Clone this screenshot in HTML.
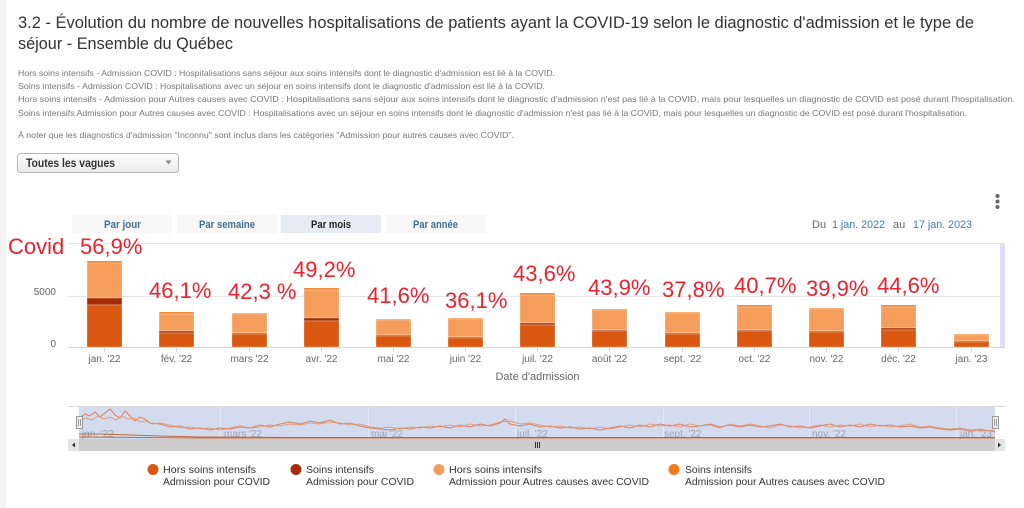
<!DOCTYPE html>
<html><head><meta charset="utf-8"><style>
html,body{margin:0;padding:0;background:#fff;}
svg{display:block;}
text{font-family:"Liberation Sans",Arial,sans-serif;}
</style></head><body>
<svg width="1024" height="508" viewBox="0 0 1024 508" xmlns="http://www.w3.org/2000/svg">
<rect x="0" y="0" width="1024" height="508" fill="#fff"/>
<rect x="0" y="0" width="6" height="508" fill="#f3f3f3"/>

<!-- Title -->
<text x="18" y="28" font-size="17" fill="#333" textLength="956" lengthAdjust="spacingAndGlyphs">3.2 - Évolution du nombre de nouvelles hospitalisations de patients ayant la COVID-19 selon le diagnostic d'admission et le type de</text>
<text x="18" y="49" font-size="17" fill="#333" textLength="215" lengthAdjust="spacingAndGlyphs">séjour - Ensemble du Québec</text>

<!-- Description -->
<g font-size="8.5" fill="#777">
<text x="18" y="76" textLength="537" lengthAdjust="spacingAndGlyphs">Hors soins intensifs - Admission COVID : Hospitalisations sans séjour aux soins intensifs dont le diagnostic d'admission est lié à la COVID.</text>
<text x="18" y="89" textLength="527" lengthAdjust="spacingAndGlyphs">Soins intensifs - Admission COVID : Hospitalisations avec un séjour en soins intensifs dont le diagnostic d'admission est lié à la COVID.</text>
<text x="18" y="102" textLength="997" lengthAdjust="spacingAndGlyphs">Hors soins intensifs - Admission pour Autres causes avec COVID : Hospitalisations sans séjour aux soins intensifs dont le diagnostic d'admission n'est pas lié à la COVID, mais pour lesquelles un diagnostic de COVID est posé durant l'hospitalisation.</text>
<text x="18" y="116" textLength="949" lengthAdjust="spacingAndGlyphs">Soins intensifs Admission pour Autres causes avec COVID : Hospitalisations avec un séjour en soins intensifs dont le diagnostic d'admission n'est pas lié à la COVID, mais pour lesquelles un diagnostic de COVID est posé durant l'hospitalisation.</text>
<text x="18" y="138" textLength="496" lengthAdjust="spacingAndGlyphs">À noter que les diagnostics d'admission "Inconnu" sont inclus dans les catégories "Admission pour autres causes avec COVID".</text>
</g>

<!-- Dropdown -->
<defs>
<linearGradient id="dd" x1="0" y1="0" x2="0" y2="1"><stop offset="0" stop-color="#fdfdfd"/><stop offset="1" stop-color="#ececec"/></linearGradient>
</defs>
<rect x="17.5" y="153.5" width="161" height="19" rx="3" fill="url(#dd)" stroke="#b5b5b5"/>
<text x="26" y="167" font-size="11.5" font-weight="bold" fill="#333" textLength="89" lengthAdjust="spacingAndGlyphs">Toutes les vagues</text>
<path d="M165.5 160.5 L171.5 160.5 L168.5 164.5 Z" fill="#888"/>

<!-- Range buttons -->
<rect x="72" y="215" width="100" height="18" fill="#f7f7f7"/>
<rect x="177" y="215" width="100" height="18" fill="#f7f7f7"/>
<rect x="281" y="215" width="100" height="18" fill="#e6ebf5"/>
<rect x="386" y="215" width="100" height="18" fill="#f7f7f7"/>
<g font-size="11" font-weight="bold">
<text x="104" y="228" fill="#3f6f93" textLength="37" lengthAdjust="spacingAndGlyphs">Par jour</text>
<text x="199" y="228" fill="#3f6f93" textLength="56" lengthAdjust="spacingAndGlyphs">Par semaine</text>
<text x="311" y="228" fill="#222" textLength="40" lengthAdjust="spacingAndGlyphs">Par mois</text>
<text x="413" y="228" fill="#3f6f93" textLength="45" lengthAdjust="spacingAndGlyphs">Par année</text>
</g>

<!-- Date range -->
<g font-size="11">
<text x="812" y="228" fill="#666">Du</text>
<text x="832" y="228" fill="#3d78b3" textLength="53" lengthAdjust="spacingAndGlyphs">1 jan. 2022</text>
<text x="893" y="228" fill="#666">au</text>
<text x="913" y="228" fill="#3d78b3" textLength="59" lengthAdjust="spacingAndGlyphs">17 jan. 2023</text>
</g>
<!-- Menu dots -->
<circle cx="997.5" cy="196" r="2" fill="#666"/>
<circle cx="997.5" cy="201.5" r="2" fill="#666"/>
<circle cx="997.5" cy="207" r="2" fill="#666"/>

<!-- Plot gridlines -->
<line x1="68" y1="243.5" x2="1005" y2="243.5" stroke="#e6e6e6"/>
<line x1="68" y1="296.5" x2="1005" y2="296.5" stroke="#e6e6e6"/>
<rect x="1000" y="243" width="5" height="104" fill="#dedcf8"/>
<line x1="68" y1="347.5" x2="1005" y2="347.5" stroke="#ccd6eb"/>

<!-- Y labels -->
<g font-size="10" fill="#666" text-anchor="end">
<text x="56" y="295">5000</text>
<text x="56" y="347">0</text>
</g>

<!-- Bars -->
<g stroke="#fff" stroke-width="0.5" stroke-opacity="0.6">
<rect x="87" y="261" width="35" height="2" fill="#f07b1c"/>
<rect x="87" y="263" width="35" height="35" fill="#f59d5a"/>
<rect x="87" y="298" width="35" height="7" fill="#a82d05"/>
<rect x="87" y="305" width="35" height="42" fill="#d9570e"/>
<rect x="159" y="312" width="35" height="2" fill="#f07b1c"/>
<rect x="159" y="314" width="35" height="17" fill="#f59d5a"/>
<rect x="159" y="331" width="35" height="2" fill="#a82d05"/>
<rect x="159" y="333" width="35" height="14" fill="#d9570e"/>
<rect x="232" y="313" width="35" height="1" fill="#f07b1c"/>
<rect x="232" y="314" width="35" height="19" fill="#f59d5a"/>
<rect x="232" y="333" width="35" height="1" fill="#a82d05"/>
<rect x="232" y="334" width="35" height="13" fill="#d9570e"/>
<rect x="304" y="288" width="35" height="2" fill="#f07b1c"/>
<rect x="304" y="290" width="35" height="28" fill="#f59d5a"/>
<rect x="304" y="318" width="35" height="3" fill="#a82d05"/>
<rect x="304" y="321" width="35" height="26" fill="#d9570e"/>
<rect x="376" y="319" width="35" height="1" fill="#f07b1c"/>
<rect x="376" y="320" width="35" height="15" fill="#f59d5a"/>
<rect x="376" y="335" width="35" height="1" fill="#a82d05"/>
<rect x="376" y="336" width="35" height="11" fill="#d9570e"/>
<rect x="448" y="318" width="35" height="1" fill="#f07b1c"/>
<rect x="448" y="319" width="35" height="18" fill="#f59d5a"/>
<rect x="448" y="337" width="35" height="1" fill="#a82d05"/>
<rect x="448" y="338" width="35" height="9" fill="#d9570e"/>
<rect x="520" y="293" width="35" height="2" fill="#f07b1c"/>
<rect x="520" y="295" width="35" height="28" fill="#f59d5a"/>
<rect x="520" y="323" width="35" height="2" fill="#a82d05"/>
<rect x="520" y="325" width="35" height="22" fill="#d9570e"/>
<rect x="592" y="309" width="35" height="1" fill="#f07b1c"/>
<rect x="592" y="310" width="35" height="20" fill="#f59d5a"/>
<rect x="592" y="330" width="35" height="1" fill="#a82d05"/>
<rect x="592" y="331" width="35" height="16" fill="#d9570e"/>
<rect x="665" y="312" width="35" height="1" fill="#f07b1c"/>
<rect x="665" y="313" width="35" height="20" fill="#f59d5a"/>
<rect x="665" y="333" width="35" height="1" fill="#a82d05"/>
<rect x="665" y="334" width="35" height="13" fill="#d9570e"/>
<rect x="737" y="305" width="35" height="2" fill="#f07b1c"/>
<rect x="737" y="307" width="35" height="23" fill="#f59d5a"/>
<rect x="737" y="330" width="35" height="1" fill="#a82d05"/>
<rect x="737" y="331" width="35" height="16" fill="#d9570e"/>
<rect x="809" y="308" width="35" height="1" fill="#f07b1c"/>
<rect x="809" y="309" width="35" height="22" fill="#f59d5a"/>
<rect x="809" y="331" width="35" height="1" fill="#a82d05"/>
<rect x="809" y="332" width="35" height="15" fill="#d9570e"/>
<rect x="881" y="305" width="35" height="2" fill="#f07b1c"/>
<rect x="881" y="307" width="35" height="21" fill="#f59d5a"/>
<rect x="881" y="328" width="35" height="2" fill="#a82d05"/>
<rect x="881" y="330" width="35" height="17" fill="#d9570e"/>
<rect x="954" y="334" width="35" height="1" fill="#f07b1c"/>
<rect x="954" y="335" width="35" height="6" fill="#f59d5a"/>
<rect x="954" y="341" width="35" height="1" fill="#a82d05"/>
<rect x="954" y="342" width="35" height="5" fill="#d9570e"/>
</g>

<!-- X ticks -->
<g stroke="#ccd6eb">
<line x1="104.5" y1="348" x2="104.5" y2="352"/><line x1="176.5" y1="348" x2="176.5" y2="352"/>
<line x1="249.5" y1="348" x2="249.5" y2="352"/><line x1="321.5" y1="348" x2="321.5" y2="352"/>
<line x1="393.5" y1="348" x2="393.5" y2="352"/><line x1="465.5" y1="348" x2="465.5" y2="352"/>
<line x1="537.5" y1="348" x2="537.5" y2="352"/><line x1="609.5" y1="348" x2="609.5" y2="352"/>
<line x1="682.5" y1="348" x2="682.5" y2="352"/><line x1="754.5" y1="348" x2="754.5" y2="352"/>
<line x1="826.5" y1="348" x2="826.5" y2="352"/><line x1="898.5" y1="348" x2="898.5" y2="352"/>
<line x1="971.5" y1="348" x2="971.5" y2="352"/>
</g>
<g font-size="10" fill="#666" text-anchor="middle">
<text x="104.5" y="362">jan. '22</text>
<text x="176.5" y="362">fév. '22</text>
<text x="249.5" y="362">mars '22</text>
<text x="321.5" y="362">avr. '22</text>
<text x="393.5" y="362">mai '22</text>
<text x="465.5" y="362">juin '22</text>
<text x="537.5" y="362">juil. '22</text>
<text x="609.5" y="362">août '22</text>
<text x="682.5" y="362">sept. '22</text>
<text x="754.5" y="362">oct. '22</text>
<text x="826.5" y="362">nov. '22</text>
<text x="898.5" y="362">déc. '22</text>
<text x="971.5" y="362">jan. '23</text>
</g>
<text x="537.5" y="380" font-size="11" fill="#666" text-anchor="middle">Date d'admission</text>

<!-- Red annotations -->
<g font-size="22" fill="#e8232e">
<text x="8" y="254">Covid</text>
<text x="80" y="254">56,9%</text>
<text x="149" y="298">46,1%</text>
<text x="228" y="299">42,3 %</text>
<text x="293" y="277">49,2%</text>
<text x="367" y="303">41,6%</text>
<text x="445" y="308">36,1%</text>
<text x="513" y="281">43,6%</text>
<text x="588" y="295">43,9%</text>
<text x="662" y="297">37,8%</text>
<text x="734" y="293">40,7%</text>
<text x="806" y="296">39,9%</text>
<text x="877" y="293">44,6%</text>
</g>

<!-- Navigator -->
<rect x="68" y="406" width="937" height="33" fill="#fff"/>
<line x1="68" y1="406.5" x2="1005" y2="406.5" stroke="#d8d8d8"/>
<rect x="79" y="407" width="916" height="32" fill="#d3dcee"/>
<g stroke="#e4e9f4">
<line x1="220.5" y1="407" x2="220.5" y2="439"/><line x1="368.5" y1="407" x2="368.5" y2="439"/>
<line x1="515.5" y1="407" x2="515.5" y2="439"/><line x1="663.5" y1="407" x2="663.5" y2="439"/>
<line x1="809.5" y1="407" x2="809.5" y2="439"/><line x1="956.5" y1="407" x2="956.5" y2="439"/>
</g>
<g font-size="10" fill="#9aa3b3">
<text x="82" y="437">jan. '22</text>
<text x="224" y="437">mars '22</text>
<text x="371" y="437">mai '22</text>
<text x="517" y="437">juil. '22</text>
<text x="664" y="437">sept. '22</text>
<text x="812" y="437">nov. '22</text>
<text x="960" y="437">jan. '23</text>
</g>
<g fill="none" stroke-width="1">
<polyline stroke="#d9704a" opacity="0.85" points="79,418 85,414 90,416 95,412 100,417 105,413 110,409 115,415 120,418 125,411 130,416 135,421 140,417 145,419 150,423 160,424 170,427 180,426 190,429 200,428 210,430 220,428 230,429 240,427 250,428 260,425 270,427 280,424 290,422 300,424 310,421 320,423 330,420 340,424 350,423 360,426 370,428 380,429 390,430 400,428 410,429 420,427 430,428 440,426 450,428 460,425 470,427 480,424 490,426 500,423 505,419 510,424 520,426 530,424 540,427 550,426 560,428 570,427 580,429 590,428 600,430 610,428 620,426 630,428 640,425 650,427 660,424 670,426 680,424 690,427 700,426 710,424 720,427 730,425 740,427 750,425 760,427 770,426 780,424 790,427 800,426 810,428 820,426 830,424 840,427 850,425 860,427 870,424 880,426 890,425 900,427 910,426 920,428 930,427 940,429 950,430 960,429 970,431 980,430 995,431"/>
<polyline stroke="#e6936a" opacity="0.85" points="79,421 86,418 92,420 98,416 104,419 110,417 116,420 122,416 128,419 134,418 140,422 146,421 152,424 160,423 170,425 180,428 190,427 200,429 210,428 220,430 230,428 240,426 250,428 260,427 270,425 280,426 290,424 300,425 310,423 320,424 330,422 340,423 350,425 360,424 370,427 380,428 390,427 400,429 410,427 420,428 430,426 440,427 450,425 460,427 470,424 480,426 490,425 500,422 510,421 520,424 530,423 540,425 550,427 560,426 570,428 580,427 590,429 600,427 610,429 620,427 630,425 640,427 650,424 660,426 670,425 680,427 690,424 700,426 710,425 720,428 730,424 740,426 750,424 760,426 770,428 780,425 790,426 800,428 810,427 820,425 830,427 840,425 850,426 860,424 870,427 880,425 890,427 900,426 910,424 920,427 930,426 940,428 950,429 960,428 970,430 980,429 995,432"/>
<polyline stroke="#b4531f" opacity="0.8" points="79,434 100,434 130,435 160,436 200,437 300,437.5 500,437.5 995,437.5"/>
<polyline stroke="#d9570e" opacity="0.9" points="79,437 200,438 995,438"/>
</g>
<!-- handles -->
<rect x="76.5" y="416.5" width="6" height="12" fill="#f2f2f2" stroke="#999"/>
<line x1="78.5" y1="419" x2="78.5" y2="426" stroke="#999"/><line x1="80.5" y1="419" x2="80.5" y2="426" stroke="#999"/>
<rect x="992.5" y="416.5" width="6" height="12" fill="#f2f2f2" stroke="#999"/>
<line x1="994.5" y1="419" x2="994.5" y2="426" stroke="#999"/><line x1="996.5" y1="419" x2="996.5" y2="426" stroke="#999"/>

<!-- Scrollbar -->
<rect x="68" y="439" width="937" height="12" fill="#cccccc"/>
<rect x="68" y="439" width="11" height="12" fill="#e4e4e4"/>
<rect x="995" y="439" width="10" height="12" fill="#e4e4e4"/>
<path d="M75 442.5 L75 447.5 L72 445 Z" fill="#333"/>
<path d="M998 442.5 L998 447.5 L1001 445 Z" fill="#333"/>
<g stroke="#333"><line x1="535.5" y1="442" x2="535.5" y2="448"/><line x1="537.5" y1="442" x2="537.5" y2="448"/><line x1="539.5" y1="442" x2="539.5" y2="448"/></g>

<!-- Legend -->
<circle cx="153" cy="469.5" r="5.5" fill="#d9570e"/>
<circle cx="296" cy="469.5" r="5.5" fill="#a82d05"/>
<circle cx="439" cy="469.5" r="5.5" fill="#f59d5a"/>
<circle cx="674" cy="469.5" r="5.5" fill="#f07b1c"/>
<g font-size="10" fill="#333">
<text x="163" y="473" textLength="93" lengthAdjust="spacingAndGlyphs">Hors soins intensifs</text>
<text x="163" y="485" textLength="107" lengthAdjust="spacingAndGlyphs">Admission pour COVID</text>
<text x="306" y="473" textLength="68" lengthAdjust="spacingAndGlyphs">Soins intensifs</text>
<text x="306" y="485" textLength="108" lengthAdjust="spacingAndGlyphs">Admission pour COVID</text>
<text x="449" y="473" textLength="93" lengthAdjust="spacingAndGlyphs">Hors soins intensifs</text>
<text x="449" y="485" textLength="200" lengthAdjust="spacingAndGlyphs">Admission pour Autres causes avec COVID</text>
<text x="685" y="473" textLength="67" lengthAdjust="spacingAndGlyphs">Soins intensifs</text>
<text x="685" y="485" textLength="200" lengthAdjust="spacingAndGlyphs">Admission pour Autres causes avec COVID</text>
</g>
</svg>
</body></html>
